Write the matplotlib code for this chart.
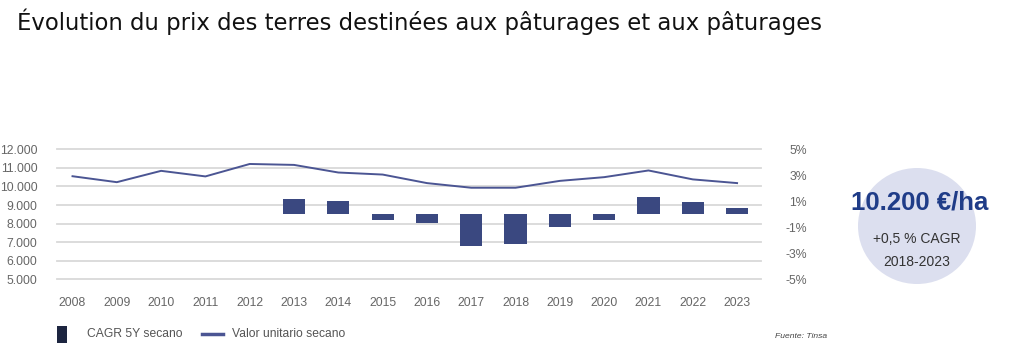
import numpy as np
import matplotlib
matplotlib.use("Agg")
import matplotlib.pyplot as plt
from matplotlib.patches import Ellipse, Rectangle
from matplotlib.lines import Line2D

years = ['2008', '2009', '2010', '2011', '2012', '2013', '2014', '2015',
         '2016', '2017', '2018', '2019', '2020', '2021', '2022', '2023']
valor = [10550, 10230, 10840, 10540, 11210, 11160, 10750, 10640,
         10180, 9930, 9930, 10300, 10500, 10860, 10380, 10180]
cagr_years = ['2013', '2014', '2015', '2016', '2017', '2018',
              '2019', '2020', '2021', '2022', '2023']
cagr = [1.15, 1.0, -0.4, -0.7, -2.4, -2.3, -0.95, -0.4, 1.3, 0.95, 0.5]

left_ticks = [5000, 6000, 7000, 8000, 9000, 10000, 11000, 12000]
right_ticks = [-5, -3, -1, 1, 3, 5]

navy = '#3a4880'
line_col = '#4b5593'
grid_col = '#d9d9d9'
tick_col = '#666666'
sans = ['Liberation Sans', 'DejaVu Sans']

W, H = 1024, 360
fig = plt.figure(figsize=(W / 100, H / 100), dpi=100)

# axes box in pixels
x0, x1 = 57, 761
ytop, ybot = 149.3, 279.3
ax = fig.add_axes([x0 / W, 1 - ybot / H, (x1 - x0) / W, (ybot - ytop) / H])
ax2 = ax.twinx()

xs = np.arange(len(years))
ax.set_xlim(-0.35, len(years) - 1 + 0.54)
ax.set_ylim(5000, 12000)
ax2.set_ylim(-5, 5)

for v in left_ticks:
    ax.axhline(v, color=grid_col, lw=1.3, zorder=0, clip_on=False)

ax.plot(xs, valor, color=line_col, lw=1.4, zorder=3, clip_on=False)

cx = [years.index(y) for y in cagr_years]
ax2.bar(cx, cagr, width=0.5, color=navy, zorder=2)

for a in (ax, ax2):
    for s in a.spines.values():
        s.set_visible(False)
    a.tick_params(length=0, colors=tick_col, labelsize=8.8)
    for t in a.get_xticklabels() + a.get_yticklabels():
        t.set_fontfamily(sans)

ax.set_xticks(xs)
ax.set_xticklabels(years, fontfamily=sans)
ax.tick_params(axis='x', pad=13)
ax.set_yticks(left_ticks)
ax.set_yticklabels([f'{v:,}'.replace(',', '.') for v in left_ticks], fontfamily=sans)
ax.tick_params(axis='y', pad=14)

ax2.set_yticks(right_ticks)
ax2.set_yticklabels([f'{v}%' for v in right_ticks], fontfamily=sans)
ax2.tick_params(axis='y', pad=33)
for t in ax2.get_yticklabels():
    t.set_ha('right')

# title
fig.text(17 / W, 1 - 22 / H, 'Évolution du prix des terres destinées aux pâturages et aux pâturages',
         fontsize=16.4, color='#111111', va='center', ha='left', fontfamily='DejaVu Sans')

# circle with headline value
circ = Ellipse((917 / W, 1 - 226 / H), 118 / W, 116 / H, transform=fig.transFigure,
               facecolor='#dcdfef', edgecolor='none')
fig.patches.append(circ)
fig.text(920 / W, 1 - 203 / H, '10.200 €/ha', fontsize=18.5, fontweight='bold',
         color='#1f3c88', ha='center', va='center', fontfamily=sans)
fig.text(917 / W, 1 - 239 / H, '+0,5 % CAGR', fontsize=10, color='#333333',
         ha='center', va='center', fontfamily=sans)
fig.text(917 / W, 1 - 262 / H, '2018-2023', fontsize=10, color='#333333',
         ha='center', va='center', fontfamily=sans)

# legend
fig.patches.append(Rectangle((57 / W, 1 - 343 / H), 10 / W, 17 / H,
                             transform=fig.transFigure, facecolor='#1d2540', edgecolor='none'))
fig.text(87 / W, 1 - 334 / H, 'CAGR 5Y secano', fontsize=8.7, color='#555555',
         ha='left', va='center', fontfamily=sans)
fig.lines.append(Line2D([202 / W, 223 / W], [1 - 334 / H, 1 - 334 / H],
                        transform=fig.transFigure, color=line_col, lw=2.5))
fig.text(232 / W, 1 - 334 / H, 'Valor unitario secano', fontsize=8.7, color='#555555',
         ha='left', va='center', fontfamily=sans)
fig.text(775 / W, 1 - 336 / H, 'Fuente: Tinsa', fontsize=6.1, color='#444444', style='italic',
         ha='left', va='center', fontfamily=sans)

fig.savefig('out.png', dpi=100, facecolor='white')
